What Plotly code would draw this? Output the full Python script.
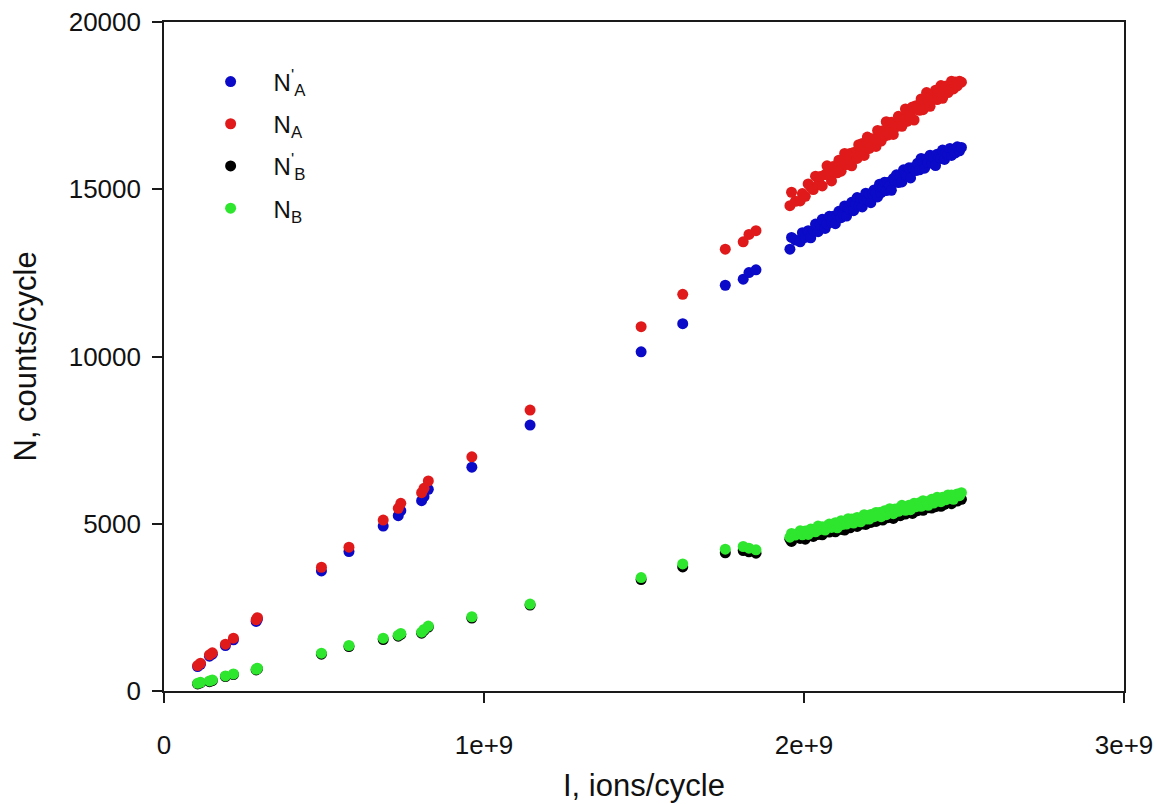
import plotly.graph_objects as go

# Ion current per cycle, in units of 1e9 ions/cycle (shared by all four series)
ions_e9 = [
    0.105, 0.114, 0.142, 0.151, 0.192, 0.217, 0.288, 0.292, 0.492, 0.578,
    0.685, 0.732, 0.740, 0.805, 0.8125, 0.826, 0.962, 1.144, 1.491, 1.621,
    1.754, 1.810, 1.828, 1.850,
    1.956, 1.961, 1.973, 1.988, 1.995, 2.004, 2.013, 2.021, 2.029, 2.036,
    2.044, 2.051, 2.057, 2.066, 2.072, 2.079, 2.086, 2.091, 2.098, 2.104,
    2.109, 2.116, 2.121, 2.127, 2.133, 2.138, 2.144, 2.149, 2.155, 2.161,
    2.166, 2.171, 2.177, 2.182, 2.188, 2.193, 2.198, 2.204, 2.209, 2.214,
    2.219, 2.225, 2.230, 2.236, 2.241, 2.246, 2.252, 2.257, 2.262, 2.268,
    2.273, 2.279, 2.284, 2.289, 2.295, 2.301, 2.306, 2.311, 2.317, 2.322,
    2.328, 2.333, 2.339, 2.344, 2.350, 2.355, 2.361, 2.366, 2.372, 2.377,
    2.383, 2.388, 2.394, 2.399, 2.405, 2.411, 2.416, 2.422, 2.428, 2.433,
    2.439, 2.444, 2.450, 2.456, 2.461, 2.467, 2.473, 2.479, 2.486, 2.492,
]

# N'_A, counts/cycle
n_a_prime = [
    730, 800, 1040, 1100, 1360, 1530, 2080, 2150, 3590, 4170,
    4930, 5240, 5390, 5690, 5810, 6030, 6690, 7950, 10140, 10980,
    12130, 12310, 12510, 12590,
    13210, 13560, 13480, 13430, 13700, 13560, 13760, 13550, 13770, 13960,
    13730, 13940, 14100, 13830, 13960, 14190, 14010, 14190, 13970, 14210,
    14340, 14150, 14280, 14500, 14200, 14450, 14390, 14610, 14360, 14560,
    14750, 14500, 14720, 14470, 14690, 14880, 14680, 14860, 14600, 14880,
    14980, 14880, 14770, 15150, 14900, 15050, 15210, 14960, 15200, 15100,
    14970, 15320, 15260, 15430, 15200, 15390, 15220, 15580, 15430, 15390,
    15640, 15340, 15640, 15610, 15560, 15780, 15580, 15920, 15790, 15630,
    15910, 15800, 16020, 15780, 15950, 15710, 16050, 15960, 15920, 16170,
    15890, 16100, 16040, 16220, 16010, 16150, 16090, 16270, 16150, 16250,
]

# N_A, counts/cycle
n_a = [
    760, 830, 1080, 1140, 1400, 1580, 2130, 2190, 3700, 4300,
    5110, 5460, 5610, 5930, 6060, 6280, 7000, 8400, 10890, 11860,
    13210, 13430, 13650, 13760,
    14510, 14910, 14640, 14650, 14870, 14790, 15160, 15070, 14990, 15390,
    15140, 15380, 15100, 15440, 15700, 15410, 15250, 15680, 15600, 15490,
    15870, 15540, 15820, 16070, 15740, 15840, 16070, 15700, 16100, 16080,
    15920, 16330, 16080, 16370, 16010, 16260, 16560, 16220, 16510, 16370,
    16510, 16280, 16760, 16590, 16440, 16750, 16590, 17020, 16620, 16850,
    17000, 16640, 16920, 16870, 17180, 17120, 16880, 17130, 17400, 17030,
    17300, 17200, 17460, 17070, 17500, 17400, 17360, 17700, 17380, 17630,
    17890, 17600, 17480, 17830, 17780, 17960, 17680, 17820, 18100, 17720,
    17980, 18090, 17890, 18020, 18230, 18000, 18210, 18090, 18230, 18200,
]

# N'_B, counts/cycle
n_b_prime = [
    210, 240, 280, 310, 430, 490, 630, 660, 1100, 1330,
    1540, 1640, 1690, 1730, 1810, 1910, 2180, 2570, 3330, 3710,
    4130, 4200, 4160, 4120,
    4540, 4470, 4620, 4560, 4660, 4540, 4650, 4700, 4620, 4780,
    4680, 4780, 4670, 4780, 4870, 4750, 4870, 4810, 4760, 4880,
    4930, 4830, 4910, 4810, 4960, 4930, 4880, 5040, 4950, 5030,
    4920, 5040, 5080, 4990, 5050, 4980, 5140, 5100, 5040, 5190,
    5110, 5070, 5180, 5130, 5250, 5110, 5190, 5250, 5180, 5290,
    5260, 5160, 5340, 5260, 5320, 5240, 5360, 5410, 5290, 5360,
    5340, 5440, 5310, 5420, 5470, 5390, 5510, 5440, 5400, 5510,
    5580, 5480, 5530, 5470, 5580, 5510, 5630, 5600, 5520, 5640,
    5580, 5700, 5640, 5710, 5600, 5710, 5740, 5680, 5790, 5730,
]

# N_B, counts/cycle
n_b = [
    230, 260, 300, 330, 450, 510, 650, 680, 1130, 1360,
    1580, 1670, 1720, 1760, 1840, 1940, 2220, 2600, 3390, 3800,
    4240, 4320, 4270, 4220,
    4600, 4710, 4660, 4790, 4670, 4780, 4680, 4840, 4820, 4760,
    4930, 4830, 4910, 4810, 4930, 4990, 4890, 4950, 5030, 4880,
    5020, 5090, 4980, 5040, 4990, 5150, 5050, 5140, 5020, 5150,
    5190, 5110, 5060, 5180, 5270, 5140, 5230, 5140, 5280, 5230,
    5210, 5340, 5260, 5340, 5210, 5340, 5390, 5270, 5370, 5450,
    5340, 5300, 5440, 5420, 5370, 5490, 5550, 5440, 5400, 5510,
    5550, 5420, 5540, 5610, 5510, 5560, 5630, 5520, 5690, 5590,
    5650, 5550, 5690, 5730, 5620, 5700, 5790, 5680, 5660, 5790,
    5770, 5720, 5860, 5780, 5860, 5730, 5860, 5890, 5840, 5930,
]

x_tickvals = [0, 1e9, 2e9, 3e9]
x_ticktext = ["0", "1e+9", "2e+9", "3e+9"]
y_tickvals = [0, 5000, 10000, 15000, 20000]
y_ticktext = ["0", "5000", "10000", "15000", "20000"]

series = [
    ("N<sup>'</sup><sub>A</sub>", n_a_prime, "#0a0ac8"),
    ("N<sub>A</sub>", n_a, "#e01a1a"),
    ("N<sup>'</sup><sub>B</sub>", n_b_prime, "#000000"),
    ("N<sub>B</sub>", n_b, "#2ee62e"),
]

ions = [v * 1e9 for v in ions_e9]

FONT = "Arial, Liberation Sans, sans-serif"

fig = go.Figure()
for i, (name, values, color) in enumerate(series):
    fig.add_trace(go.Scatter(
        x=ions, y=values, mode="markers", name=name,
        legendgroup=f"g{i}",
        marker=dict(size=11, color=color, line=dict(width=0)),
    ))

axis_common = dict(
    showgrid=False, zeroline=False, automargin=False,
    showline=True, linecolor="#1a1a1a", linewidth=1.6, mirror=True,
    ticks="outside", ticklen=10, tickwidth=1.6, tickcolor="#1a1a1a",
    tickfont=dict(family=FONT, size=26, color="#111111"),
)

fig.update_xaxes(range=[0, 3e9], tickvals=x_tickvals, ticktext=x_ticktext,
                 ticklabelstandoff=20, **axis_common)
fig.update_yaxes(range=[0, 20000], tickvals=y_tickvals, ticktext=y_ticktext,
                 ticklabelstandoff=6, **axis_common)

fig.update_layout(
    width=1156, height=804,
    margin=dict(l=164, r=32, t=22, b=113),
    paper_bgcolor="white", plot_bgcolor="white",
    showlegend=True,
    legend=dict(
        x=0.0246, y=0.944, xanchor="left", yanchor="top",
        bgcolor="rgba(0,0,0,0)", borderwidth=0,
        font=dict(family=FONT, size=24, color="#111111"),
        tracegroupgap=8, itemwidth=76,
    ),
    annotations=[
        dict(text="N, counts/cycle", xref="paper", yref="paper",
             x=0, y=0.5, xanchor="center", yanchor="middle",
             xshift=-139, textangle=-90, showarrow=False,
             font=dict(family=FONT, size=31, color="#111111")),
        dict(text="I, ions/cycle", xref="paper", yref="paper",
             x=0.5, y=0, xanchor="center", yanchor="middle",
             yshift=-94, showarrow=False,
             font=dict(family=FONT, size=31, color="#111111")),
    ],
)

fig.write_html("out.html")
